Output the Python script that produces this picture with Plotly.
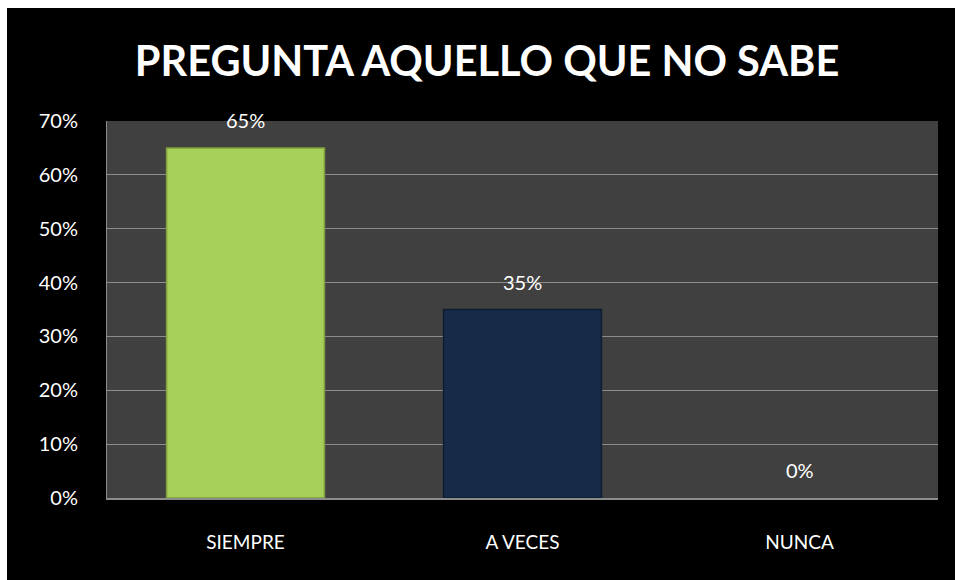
import plotly.graph_objects as go

categories = ["SIEMPRE", "A VECES", "NUNCA"]
values = [0.65, 0.35, 0.0]
labels = ["65%", "35%", "0%"]
bar_colors = ["#A6D05A", "#172B48", "#172B48"]
line_colors = ["#7E9F3C", "#0E1C30", "#0E1C30"]
tick_vals = [0, 0.1, 0.2, 0.3, 0.4, 0.5, 0.6, 0.7]
tick_text = ["0%", "10%", "20%", "30%", "40%", "50%", "60%", "70%"]

W, H = 955, 580
L, R, T, B = 107, 17, 121, 82
pw, ph = W - L - R, H - T - B

FONT = "Lato"

fig = go.Figure()
fig.add_trace(go.Bar(
    x=categories, y=values,
    marker=dict(color=bar_colors,
                line=dict(color=line_colors,
                          width=[1.5 if v > 0 else 0 for v in values])),
    width=0.57,
    hoverinfo="skip",
))

for c, v, t in zip(categories, values, labels):
    fig.add_annotation(x=c, y=v, text=t, showarrow=False, yanchor="bottom",
                       yshift=14, font=dict(family=FONT, size=20, color="white"))

# black frame (leaving thin white margin at top/left) and plot background
fig.add_shape(type="rect", xref="paper", yref="paper", layer="below",
              x0=(7 - L) / pw, x1=(W - L) / pw,
              y0=-B / ph, y1=(H - B - 8) / ph,
              fillcolor="black", line=dict(width=0))
fig.add_shape(type="rect", xref="paper", yref="paper", layer="below",
              x0=0, x1=1, y0=0, y1=1, fillcolor="#404040", line=dict(width=0))

fig.update_layout(
    width=W, height=H,
    margin=dict(l=L, r=R, t=T, b=B),
    paper_bgcolor="white", plot_bgcolor="#404040",
    showlegend=False,
    title=dict(text="<b>PREGUNTA AQUELLO QUE NO SABE</b>", xref="container", x=0.51,
               xanchor="center", yref="container", y=1 - 61 / H, yanchor="middle",
               font=dict(family=FONT, size=41.5, color="white")),
    xaxis=dict(showgrid=False, showline=True, linecolor="#8C8C8C", linewidth=1.5,
               ticks="", tickfont=dict(family=FONT, size=19, color="white"),
               ticklabelstandoff=26),
    yaxis=dict(range=[0, 0.7], tickvals=tick_vals, ticktext=tick_text,
               showgrid=True, gridcolor="#8C8C8C", gridwidth=1,
               showline=True, linecolor="#8C8C8C", linewidth=1, zeroline=False,
               ticks="", tickfont=dict(family=FONT, size=20, color="white"),
               ticklabelstandoff=24),
)

fig.write_html("out.html",
               config={"displayModeBar": False},
               post_script="document.body.style.margin='0';document.body.style.overflow='hidden';")
